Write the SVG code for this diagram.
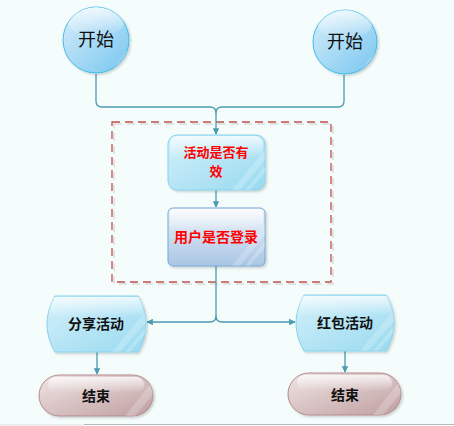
<svg xmlns="http://www.w3.org/2000/svg" width="454" height="426" viewBox="0 0 454 426">
<defs>
<linearGradient id="gCircle" x1="0" y1="0" x2="1" y2="1">
<stop offset="0" stop-color="#d8eefb"/><stop offset="1" stop-color="#78c6ef"/>
</linearGradient>
<linearGradient id="gCyan" x1="0" y1="0" x2="1" y2="1">
<stop offset="0" stop-color="#d4f0fa"/><stop offset="1" stop-color="#98daf0"/>
</linearGradient>
<linearGradient id="gBlue" x1="0" y1="0" x2="0" y2="1">
<stop offset="0" stop-color="#eef3fa"/><stop offset="1" stop-color="#a8c6e4"/>
</linearGradient>
<linearGradient id="gEnd" x1="0" y1="0" x2="1" y2="1">
<stop offset="0" stop-color="#f0e4e4"/><stop offset="1" stop-color="#bf9fa0"/>
</linearGradient>
<linearGradient id="gGloss" x1="0" y1="0" x2="0" y2="1">
<stop offset="0" stop-color="#fff" stop-opacity="0.75"/><stop offset="1" stop-color="#fff" stop-opacity="0"/>
</linearGradient>
<marker id="arr" viewBox="0 0 10 10" refX="9" refY="5" markerWidth="5" markerHeight="5" orient="auto">
<path d="M0,0 L10,5 L0,10 Z" fill="#4a9ab0"/>
</marker>
<filter id="sh" x="-10%" y="-10%" width="130%" height="130%">
<feDropShadow dx="1.5" dy="1.5" stdDeviation="0.8" flood-color="#000" flood-opacity="0.18"/>
</filter>
</defs>
<style>
.conn{fill:none;stroke:#4a9ab0;stroke-width:1.3}
.t{font-family:"Noto Sans CJK SC","Liberation Sans",sans-serif;text-anchor:middle;font-weight:bold}
.red{fill:#ff0000;font-size:13px}
.blk{fill:#111;font-size:14px}
.start{font-family:"Noto Sans CJK SC",serif;font-size:18px;fill:#111;text-anchor:middle}
.stripe{fill:#fff;opacity:0.22}
</style>
<rect width="454" height="426" fill="#f4fcfc"/>
<rect x="0" y="424" width="84" height="2" fill="#ececec"/>
<rect x="84" y="424" width="370" height="2" fill="#ffffff"/>
<line x1="84" y1="424.5" x2="454" y2="424.5" stroke="#b8b8b8" stroke-width="1"/>

<g id="group">
<rect x="114" y="124" width="219" height="160" fill="none" stroke="#dcdcdc" stroke-width="1.5" stroke-dasharray="8,5"/>
<rect x="112" y="122" width="219" height="160" fill="none" stroke="#c0504d" stroke-width="1.3" stroke-dasharray="8,5"/>
</g>

<g id="connectors">
<path class="conn" d="M96,74 V101 Q96,107 102,107 H210 Q216,107 216,113 V134" marker-end="url(#arr)"/>
<path class="conn" d="M344,75 V101 Q344,107 338,107 H222 Q216,107 216,113"/>
<path class="conn" d="M216,190 V207" marker-end="url(#arr)"/>
<path class="conn" d="M216,266 V316 Q216,322 210,322 H147" marker-end="url(#arr)"/>
<path class="conn" d="M216,316 Q216,322 222,322 H295" marker-end="url(#arr)"/>
<path class="conn" d="M97,352 V374" marker-end="url(#arr)"/>
<path class="conn" d="M345,351 V372" marker-end="url(#arr)"/>
</g>

<g id="start1">
<circle cx="96" cy="40" r="33" fill="url(#gCircle)" stroke="#3dbce8" stroke-width="1" filter="url(#sh)"/>
<clipPath id="c1"><circle cx="96" cy="40" r="33"/></clipPath>
<g clip-path="url(#c1)">
<polygon class="stripe" points="105,80 150,20 160,20 115,80"/>
<polygon points="118,80 160,20 164,20 122,80" fill="#3dbce8" opacity="0.5"/>
<ellipse cx="96" cy="22" rx="28" ry="15" fill="url(#gGloss)"/>
</g>
<text class="start" x="96" y="46">开始</text>
</g>

<g id="start2">
<circle cx="345" cy="42" r="32" fill="url(#gCircle)" stroke="#3dbce8" stroke-width="1" filter="url(#sh)"/>
<clipPath id="c2"><circle cx="345" cy="42" r="32"/></clipPath>
<g clip-path="url(#c2)">
<polygon class="stripe" points="354,80 399,20 409,20 364,80"/>
<polygon points="367,80 409,20 413,20 371,80" fill="#3dbce8" opacity="0.5"/>
<ellipse cx="345" cy="24" rx="27" ry="15" fill="url(#gGloss)"/>
</g>
<text class="start" x="345" y="48">开始</text>
</g>

<g id="valid">
<rect x="168" y="135" width="97" height="55" rx="9" fill="url(#gCyan)" stroke="#86d2ee" stroke-width="1" filter="url(#sh)"/>
<clipPath id="c3"><rect x="168" y="135" width="97" height="55" rx="9"/></clipPath>
<g clip-path="url(#c3)">
<rect x="170" y="136" width="93" height="22" rx="8" fill="url(#gGloss)"/>
<polygon class="stripe" points="232,190 265,150 265,160 240,190"/>
<polygon class="stripe" points="245,190 265,166 265,172 250,190"/>
</g>
<text class="t red" x="216" y="157">活动是否有</text>
<text class="t red" x="216" y="176">效</text>
</g>

<g id="login">
<rect x="168" y="208" width="97" height="58" rx="5" fill="url(#gBlue)" stroke="#78a8d4" stroke-width="1" filter="url(#sh)"/>
<clipPath id="c4"><rect x="168" y="208" width="97" height="58" rx="5"/></clipPath>
<g clip-path="url(#c4)">
<rect x="170" y="209" width="93" height="22" rx="4" fill="url(#gGloss)"/>
<polygon class="stripe" points="232,266 265,225 265,235 240,266"/>
<polygon class="stripe" points="245,266 265,241 265,247 250,266"/>
</g>
<text class="t red" x="216" y="242" style="font-size:14px">用户是否登录</text>
</g>

<g id="share">
<path d="M55,296 H138 Q154,324 138,352 H55 Q39,324 55,296 Z" fill="url(#gCyan)" stroke="#86d2ee" stroke-width="1" filter="url(#sh)"/>
<clipPath id="c5"><path d="M55,296 H138 Q154,324 138,352 H55 Q39,324 55,296 Z"/></clipPath>
<g clip-path="url(#c5)">
<rect x="45" y="297" width="105" height="20" fill="url(#gGloss)"/>
<polygon class="stripe" points="112,352 150,306 150,318 120,352"/>
<polygon class="stripe" points="125,352 152,320 152,326 130,352"/>
</g>
<text class="t blk" x="96" y="329">分享活动</text>
</g>

<g id="redpacket">
<path d="M304,295 H386 Q402,323 386,351 H304 Q288,323 304,295 Z" fill="url(#gCyan)" stroke="#86d2ee" stroke-width="1" filter="url(#sh)"/>
<clipPath id="c6"><path d="M304,295 H386 Q402,323 386,351 H304 Q288,323 304,295 Z"/></clipPath>
<g clip-path="url(#c6)">
<rect x="294" y="296" width="105" height="20" fill="url(#gGloss)"/>
<polygon class="stripe" points="360,351 398,305 398,317 368,351"/>
<polygon class="stripe" points="373,351 400,319 400,325 378,351"/>
</g>
<text class="t blk" x="345" y="328">红包活动</text>
</g>

<g id="end1">
<rect x="39" y="375" width="114" height="41" rx="20.5" fill="url(#gEnd)" stroke="#b58b8d" stroke-width="1" filter="url(#sh)"/>
<clipPath id="c7"><rect x="39" y="375" width="114" height="41" rx="20.5"/></clipPath>
<g clip-path="url(#c7)">
<rect x="48" y="377" width="96" height="16" rx="8" fill="url(#gGloss)"/>
<polygon class="stripe" points="125,416 160,372 160,385 135,416"/>
<polygon points="141,416 162,390 162,394 144,416" fill="#a07a7c" opacity="0.35"/>
</g>
<text class="t blk" x="96" y="401">结束</text>
</g>

<g id="end2">
<rect x="288" y="373" width="113" height="42" rx="21" fill="url(#gEnd)" stroke="#b58b8d" stroke-width="1" filter="url(#sh)"/>
<clipPath id="c8"><rect x="288" y="373" width="113" height="42" rx="21"/></clipPath>
<g clip-path="url(#c8)">
<rect x="297" y="375" width="95" height="16" rx="8" fill="url(#gGloss)"/>
<polygon class="stripe" points="373,415 408,371 408,384 383,415"/>
<polygon points="389,415 410,389 410,393 392,415" fill="#a07a7c" opacity="0.35"/>
</g>
<text class="t blk" x="345" y="400">结束</text>
</g>
</svg>
